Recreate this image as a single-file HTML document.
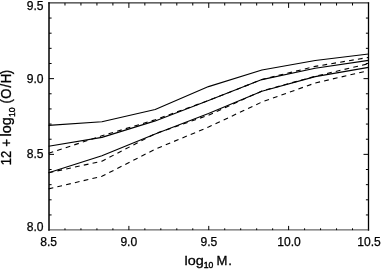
<!DOCTYPE html>
<html><head><meta charset="utf-8"><title>plot</title>
<style>
html,body{margin:0;padding:0;background:#fff;}
svg{display:block;}
text{font-family:"Liberation Sans",Arial,Helvetica,sans-serif;fill:#000;stroke:#000;stroke-width:0.25px;}
.tk{font-size:12.1px;}
.tt{font-size:13.1px;stroke-width:0.3px;}
.sub{font-size:8.6px;stroke-width:0.4px;}
.yl .tt{font-size:14.1px;stroke-width:0.3px;}
</style></head><body>
<svg width="383" height="270" viewBox="0 0 383 270">
<rect width="383" height="270" fill="#fff"/>

<g stroke="#000" stroke-width="1" fill="none">
<path d="M49.0 2.35V230.70" stroke-width="1.5"/>
<path d="M368.5 2.35V230.70" stroke-width="1.3"/>
<path d="M48.25 2.9H369.15" stroke-width="1.0"/>
<path d="M48.25 229.90H369.15" stroke-width="0.85" stroke="#222"/>
<path d="M64.97 230.1v-1.8M64.97 2.9v2.6M80.95 230.1v-1.8M80.95 2.9v2.6M96.93 230.1v-1.8M96.93 2.9v2.6M112.90 230.1v-1.8M112.90 2.9v2.6M128.88 230.1v-4.2M128.88 2.9v5.0M144.85 230.1v-1.8M144.85 2.9v2.6M160.82 230.1v-1.8M160.82 2.9v2.6M176.80 230.1v-1.8M176.80 2.9v2.6M192.78 230.1v-1.8M192.78 2.9v2.6M208.75 230.1v-4.2M208.75 2.9v5.0M224.72 230.1v-1.8M224.72 2.9v2.6M240.70 230.1v-1.8M240.70 2.9v2.6M256.68 230.1v-1.8M256.68 2.9v2.6M272.65 230.1v-1.8M272.65 2.9v2.6M288.62 230.1v-4.2M288.62 2.9v5.0M304.60 230.1v-1.8M304.60 2.9v2.6M320.57 230.1v-1.8M320.57 2.9v2.6M336.55 230.1v-1.8M336.55 2.9v2.6M352.53 230.1v-1.8M352.53 2.9v2.6M49.0 214.95h2.6M368.5 214.95h-2.6M49.0 199.81h2.6M368.5 199.81h-2.6M49.0 184.66h2.6M368.5 184.66h-2.6M49.0 169.51h2.6M368.5 169.51h-2.6M49.0 154.37h5.0M368.5 154.37h-5.0M49.0 139.22h2.6M368.5 139.22h-2.6M49.0 124.07h2.6M368.5 124.07h-2.6M49.0 108.93h2.6M368.5 108.93h-2.6M49.0 93.78h2.6M368.5 93.78h-2.6M49.0 78.63h5.0M368.5 78.63h-5.0M49.0 63.49h2.6M368.5 63.49h-2.6M49.0 48.34h2.6M368.5 48.34h-2.6M49.0 33.19h2.6M368.5 33.19h-2.6M49.0 18.05h2.6M368.5 18.05h-2.6"/>
</g>
<g stroke="#000" stroke-width="1.1" fill="none" stroke-linejoin="round">
<polyline points="48.6,125.4 101.9,121.7 155.2,109.5 208.5,86.6 261.9,70.0 315.2,60.5 368.5,54.0"/>
<polyline points="48.6,146.2 101.9,137.4 155.2,120.9 208.5,100.6 261.9,79.6 315.2,68.3 368.5,60.4"/>
<polyline points="48.6,172.8 101.9,155.8 155.2,133.9 208.5,113.6 261.9,91.2 315.2,76.6 368.5,67.4"/>
<polyline points="48.6,188.9 101.9,176.3 155.2,149.2 208.5,127.1 261.9,102.0 315.2,83.0 368.5,70.6" stroke-dasharray="4.8 4.2"/>
<polyline points="48.6,153.3 101.9,135.8 155.2,119.8 208.5,100.5 261.9,79.5 315.2,66.4 368.5,57.4" stroke-dasharray="4.8 4.2"/>
<polyline points="48.6,172.8 101.9,161.2 155.2,133.7 208.5,115.2 261.9,91.0 315.2,76.3 368.5,63.7" stroke-dasharray="4.8 4.2"/>
</g>
<text class="tk" x="43.5" y="10.1" text-anchor="end">9.5</text>
<text class="tk" x="43.5" y="82.6" text-anchor="end">9.0</text>
<text class="tk" x="43.5" y="158.4" text-anchor="end">8.5</text>
<text class="tk" x="43.5" y="230.8" text-anchor="end">8.0</text>
<text class="tk" x="48.7" y="246" text-anchor="middle">8.5</text>
<text class="tk" x="128.8" y="246" text-anchor="middle">9.0</text>
<text class="tk" x="208.9" y="246" text-anchor="middle">9.5</text>
<text class="tk" x="289.0" y="246" text-anchor="middle">10.0</text>
<text class="tk" x="369.1" y="246" text-anchor="middle">10.5</text>
<text class="tt" transform="translate(184.45 264.8) scale(1.1 1)">log</text>
<text class="sub" y="268.4" x="203.74 208.41">10</text>
<text class="tt" y="264.8" x="216.57 228.22">M.</text>
<g transform="translate(11.0 117) rotate(-90)" class="yl">
<text class="tt" transform="scale(0.9291 1)" y="0" x="-51.99 -44.06">12</text>
<text class="tt" transform="scale(0.9291 1)" y="0" x="-32.10">+</text>
<text class="tt" transform="translate(-19.4 0) scale(1.0220 1)">log</text>
<text class="sub" y="4.0" x="-0.02 4.75">10</text>
<text class="tt" transform="scale(0.9291 1)" y="0" x="14.41 19.73 31.64 36.36 46.09">(O/H)</text>
</g>
</svg></body></html>
